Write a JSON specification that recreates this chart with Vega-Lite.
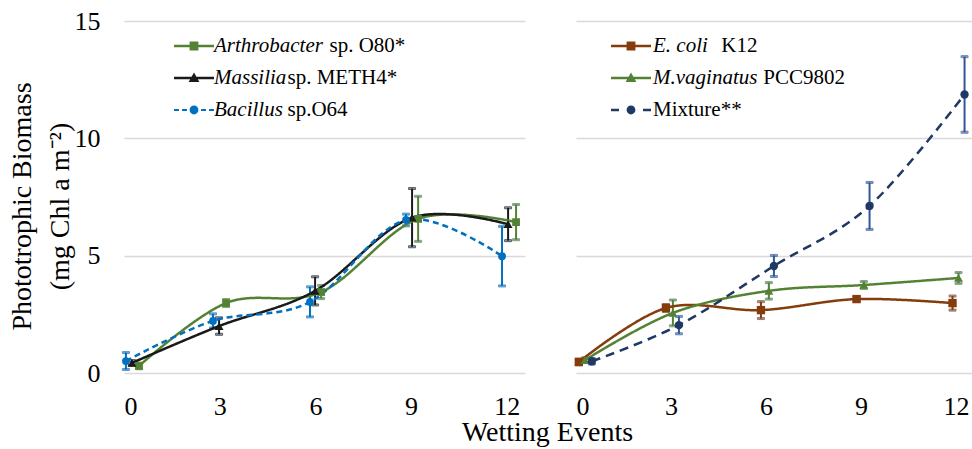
{
  "$schema": "https://vega.github.io/schema/vega-lite/v6.json",
  "padding": {"left": 8, "top": 8, "right": 0, "bottom": 0},
  "bounds": "flush",
  "spacing": 51,
  "config": {
    "font": "Liberation Serif",
    "view": {"stroke": null},
    "axis": {"labelFont": "Liberation Serif", "labelFontSize": 26, "labelColor": "#000", "titleFont": "Liberation Serif", "titleFontSize": 28, "titleFontWeight": "normal", "titleColor": "#000", "gridColor": "#d9d9d9", "gridWidth": 1.3, "domain": false, "ticks": false},
    "legend": {"labelFont": "Liberation Serif", "labelFontSize": 21, "labelColor": "#000", "labelLimit": 0, "symbolSize": 1600, "symbolStrokeWidth": 0, "rowPadding": 2}
  },
  "title": {"text": "Wetting Events", "orient": "bottom", "anchor": "middle", "font": "Liberation Serif", "fontSize": 28, "fontWeight": "normal", "color": "#000", "offset": 0, "dx": 56},
  "datasets": {
    "left": [
      {"series": "Arthrobacter sp. O80*", "x": 0.47, "y": 0.3, "err": 0.12},
      {"series": "Arthrobacter sp. O80*", "x": 3.2, "y": 2.98, "err": 0.15},
      {"series": "Arthrobacter sp. O80*", "x": 6.18, "y": 3.45, "err": 0.28},
      {"series": "Arthrobacter sp. O80*", "x": 9.22, "y": 6.57, "err": 0.96},
      {"series": "Arthrobacter sp. O80*", "x": 12.29, "y": 6.43, "err": 0.75},
      {"series": "Massilia sp. METH4*", "x": 0.25, "y": 0.43, "err": 0.1},
      {"series": "Massilia sp. METH4*", "x": 2.98, "y": 2.0, "err": 0.35},
      {"series": "Massilia sp. METH4*", "x": 5.99, "y": 3.5, "err": 0.6},
      {"series": "Massilia sp. METH4*", "x": 9.03, "y": 6.62, "err": 1.24},
      {"series": "Massilia sp. METH4*", "x": 12.04, "y": 6.34, "err": 0.7},
      {"series": "Bacillus sp.O64", "x": 0.06, "y": 0.51, "err": 0.36},
      {"series": "Bacillus sp.O64", "x": 2.79, "y": 2.22, "err": 0.3},
      {"series": "Bacillus sp.O64", "x": 5.83, "y": 3.03, "err": 0.64},
      {"series": "Bacillus sp.O64", "x": 8.84, "y": 6.52, "err": 0.25},
      {"series": "Bacillus sp.O64", "x": 11.85, "y": 4.98, "err": 1.27}
    ],
    "right": [
      {"series": "E. coli  K12", "x": 0.09, "y": 0.47, "err": 0.12},
      {"series": "E. coli  K12", "x": 2.84, "y": 2.77, "err": 0.15},
      {"series": "E. coli  K12", "x": 5.84, "y": 2.68, "err": 0.36},
      {"series": "E. coli  K12", "x": 8.86, "y": 3.15, "err": 0.1},
      {"series": "E. coli  K12", "x": 11.89, "y": 2.98, "err": 0.3},
      {"series": "M.vaginatus PCC9802", "x": 0.28, "y": 0.55, "err": 0.1},
      {"series": "M.vaginatus PCC9802", "x": 3.06, "y": 2.56, "err": 0.55},
      {"series": "M.vaginatus PCC9802", "x": 6.09, "y": 3.5, "err": 0.35},
      {"series": "M.vaginatus PCC9802", "x": 9.09, "y": 3.75, "err": 0.15},
      {"series": "M.vaginatus PCC9802", "x": 12.08, "y": 4.05, "err": 0.23},
      {"series": "Mixture**", "x": 0.5, "y": 0.5, "err": 0.12},
      {"series": "Mixture**", "x": 3.25, "y": 2.04, "err": 0.37},
      {"series": "Mixture**", "x": 6.25, "y": 4.56, "err": 0.45},
      {"series": "Mixture**", "x": 9.27, "y": 7.12, "err": 1.0},
      {"series": "Mixture**", "x": 12.27, "y": 11.87, "err": 1.61}
    ]
  },
  "resolve": {"scale": {"color": "independent", "fill": "independent", "stroke": "independent", "shape": "independent", "strokeDash": "independent"}, "legend": {"color": "independent", "fill": "independent", "shape": "independent"}},
  "hconcat": [
    {
      "width": 401, "height": 352,
      "data": {"name": "left"},
      "encoding": {
        "x": {"field": "x", "type": "quantitative", "scale": {"domain": [0, 12.57], "nice": false, "zero": false}, "axis": {"values": [0, 3, 6, 9, 12], "grid": false, "title": null, "labelPadding": 20}},
        "y": {"field": "y", "type": "quantitative", "scale": {"domain": [0, 15], "nice": false}, "axis": {"values": [0, 5, 10, 15], "grid": true, "title": ["Phototrophic Biomass", "(mg Chl a m⁻²)"], "titleLineHeight": 38, "titlePadding": 0, "titleY": 185, "labelPadding": 24}}
      },
      "layer": [
        {
          "mark": {"type": "point", "filled": true, "opacity": 0},
          "encoding": {
            "fill": {"field": "series", "type": "nominal", "scale": {"domain": ["Arthrobacter sp. O80*", "Massilia sp. METH4*", "Bacillus sp.O64"], "range": ["#548235", "#1a1a1a", "#0070c0"]}, "legend": {"title": null, "orient": "none", "legendX": 50, "legendY": 5, "labelOffset": 0, "symbolOpacity": 1, "labelExpr": "datum.label == 'Arthrobacter sp. O80*' ? '\u200b\u00a0\u00a0\u00a0\u00a0\u00a0\u00a0\u00a0\u00a0\u00a0\u00a0\u00a0\u00a0\u00a0\u00a0\u00a0\u00a0\u00a0\u00a0\u00a0\u00a0\u00a0\u00a0sp. O80*' : datum.label == 'Massilia sp. METH4*' ? '\u200b\u00a0\u00a0\u00a0\u00a0\u00a0\u00a0\u00a0\u00a0\u00a0\u00a0\u00a0\u00a0\u00a0\u00a0sp. METH4*' : '\u200b\u00a0\u00a0\u00a0\u00a0\u00a0\u00a0\u00a0\u00a0\u00a0\u00a0\u00a0\u00a0\u00a0\u00a0sp.O64'"}},
            "shape": {"field": "series", "type": "nominal", "scale": {"domain": ["Arthrobacter sp. O80*", "Massilia sp. METH4*", "Bacillus sp.O64"], "range": [
              "M-1,-0.06H1V0.06H-1Z M-0.22,-0.22H0.22V0.22H-0.22Z",
              "M-1,-0.06H1V0.06H-1Z M0,-0.27L0.27,0.2H-0.27Z",
              "M-1,-0.05H-0.75V0.05H-1Z M-0.6,-0.05H-0.35V0.05H-0.6Z M0.35,-0.05H0.6V0.05H0.35Z M0.75,-0.05H1V0.05H0.75Z M-0.22,0A0.22,0.22 0 1,1 0.22,0A0.22,0.22 0 1,1 -0.22,0Z"
            ]}, "legend": {"title": null, "orient": "none", "legendX": 50, "legendY": 5, "labelOffset": 0, "symbolOpacity": 1, "labelExpr": "datum.label == 'Arthrobacter sp. O80*' ? '\u200b\u00a0\u00a0\u00a0\u00a0\u00a0\u00a0\u00a0\u00a0\u00a0\u00a0\u00a0\u00a0\u00a0\u00a0\u00a0\u00a0\u00a0\u00a0\u00a0\u00a0\u00a0\u00a0sp. O80*' : datum.label == 'Massilia sp. METH4*' ? '\u200b\u00a0\u00a0\u00a0\u00a0\u00a0\u00a0\u00a0\u00a0\u00a0\u00a0\u00a0\u00a0\u00a0\u00a0sp. METH4*' : '\u200b\u00a0\u00a0\u00a0\u00a0\u00a0\u00a0\u00a0\u00a0\u00a0\u00a0\u00a0\u00a0\u00a0\u00a0sp.O64'"}}
          }
        },
        {
          "mark": {"type": "point", "filled": true, "opacity": 0},
          "encoding": {
            "color": {"field": "series", "type": "nominal", "sort": ["Arthrobacter sp. O80*", "Massilia sp. METH4*", "Bacillus sp.O64"], "legend": {"title": null, "orient": "none", "legendX": 50, "legendY": 5, "labelOffset": 0, "symbolOpacity": 0, "symbolType": "M-1,-0.06H1V0.06H-1Z", "labelFontStyle": "italic", "labelExpr": "datum.label == 'Arthrobacter sp. O80*' ? 'Arthrobacter' : datum.label == 'Massilia sp. METH4*' ? 'Massilia' : 'Bacillus'"}}
          }
        },
        {
          "mark": {"type": "errorbar", "thickness": 2, "ticks": {"size": 7, "thickness": 2}},
          "encoding": {
            "yError": {"field": "err"},
            "stroke": {"field": "series", "type": "nominal", "scale": {"domain": ["Arthrobacter sp. O80*", "Massilia sp. METH4*", "Bacillus sp.O64"], "range": ["#548235", "#1a1a1a", "#0070c0"]}, "legend": null}
          }
        },
        {
          "mark": {"type": "line", "interpolate": "cardinal", "tension": 0, "strokeWidth": 2.5},
          "encoding": {
            "stroke": {"field": "series", "type": "nominal", "scale": {"domain": ["Arthrobacter sp. O80*", "Massilia sp. METH4*", "Bacillus sp.O64"], "range": ["#548235", "#1a1a1a", "#0070c0"]}, "legend": null},
            "strokeDash": {"field": "series", "type": "nominal", "scale": {"domain": ["Arthrobacter sp. O80*", "Massilia sp. METH4*", "Bacillus sp.O64"], "range": [[1, 0], [1, 0], [6, 4]]}, "legend": null}
          }
        },
        {
          "transform": [{"filter": "datum.series === 'Arthrobacter sp. O80*'"}],
          "mark": {"type": "point", "shape": "square", "filled": true, "size": 60, "opacity": 1, "color": "#548235"},
          "encoding": {}
        },
        {
          "transform": [{"filter": "datum.series === 'Massilia sp. METH4*'"}],
          "mark": {"type": "point", "shape": "triangle-up", "filled": true, "size": 80, "opacity": 1, "color": "#1a1a1a"},
          "encoding": {}
        },
        {
          "transform": [{"filter": "datum.series === 'Bacillus sp.O64'"}],
          "mark": {"type": "point", "shape": "circle", "filled": true, "size": 60, "opacity": 1, "color": "#0070c0"},
          "encoding": {}
        }
      ]
    },
    {
      "width": 399, "height": 352,
      "data": {"name": "right"},
      "resolve": {"scale": {"stroke": "independent"}},
      "encoding": {
        "x": {"field": "x", "type": "quantitative", "scale": {"domain": [0, 12.6], "nice": false, "zero": false}, "axis": {"values": [0, 3, 6, 9, 12], "grid": false, "title": null, "labelPadding": 20}},
        "y": {"field": "y", "type": "quantitative", "scale": {"domain": [0, 15], "nice": false}, "axis": {"values": [0, 5, 10, 15], "grid": true, "title": null, "labels": false}}
      },
      "layer": [
        {
          "mark": {"type": "point", "filled": true, "opacity": 0},
          "encoding": {
            "fill": {"field": "series", "type": "nominal", "scale": {"domain": ["E. coli  K12", "M.vaginatus PCC9802", "Mixture**"], "range": ["#843c0c", "#548235", "#203864"]}, "legend": {"title": null, "orient": "none", "legendX": 35, "legendY": 5, "labelOffset": 2, "symbolOpacity": 1, "labelExpr": "datum.label == 'E. coli  K12' ? '\u200b\u00a0\u00a0\u00a0\u00a0\u00a0\u00a0\u00a0\u00a0\u00a0\u00a0\u00a0\u00a0\u00a0K12' : datum.label == 'M.vaginatus PCC9802' ? '\u200b\u00a0\u00a0\u00a0\u00a0\u00a0\u00a0\u00a0\u00a0\u00a0\u00a0\u00a0\u00a0\u00a0\u00a0\u00a0\u00a0\u00a0\u00a0\u00a0\u00a0\u00a0PCC9802' : 'Mixture**'"}},
            "shape": {"field": "series", "type": "nominal", "scale": {"domain": ["E. coli  K12", "M.vaginatus PCC9802", "Mixture**"], "range": [
              "M-1,-0.06H1V0.06H-1Z M-0.22,-0.22H0.22V0.22H-0.22Z",
              "M-1,-0.06H1V0.06H-1Z M0,-0.27L0.27,0.2H-0.27Z",
              "M-1,-0.06H-0.6V0.06H-1Z M0.6,-0.06H1V0.06H0.6Z M-0.22,0A0.22,0.22 0 1,1 0.22,0A0.22,0.22 0 1,1 -0.22,0Z"
            ]}, "legend": {"title": null, "orient": "none", "legendX": 35, "legendY": 5, "labelOffset": 2, "symbolOpacity": 1, "labelExpr": "datum.label == 'E. coli  K12' ? '\u200b\u00a0\u00a0\u00a0\u00a0\u00a0\u00a0\u00a0\u00a0\u00a0\u00a0\u00a0\u00a0\u00a0K12' : datum.label == 'M.vaginatus PCC9802' ? '\u200b\u00a0\u00a0\u00a0\u00a0\u00a0\u00a0\u00a0\u00a0\u00a0\u00a0\u00a0\u00a0\u00a0\u00a0\u00a0\u00a0\u00a0\u00a0\u00a0\u00a0\u00a0PCC9802' : 'Mixture**'"}}
          }
        },
        {
          "mark": {"type": "point", "filled": true, "opacity": 0},
          "encoding": {
            "color": {"field": "series", "type": "nominal", "sort": ["E. coli  K12", "M.vaginatus PCC9802", "Mixture**"], "legend": {"title": null, "orient": "none", "legendX": 35, "legendY": 5, "labelOffset": 2, "symbolOpacity": 0, "symbolType": "M-1,-0.06H1V0.06H-1Z", "labelFontStyle": "italic", "labelExpr": "datum.label == 'E. coli  K12' ? 'E. coli' : datum.label == 'M.vaginatus PCC9802' ? 'M.vaginatus' : ''"}}
          }
        },
        {
          "mark": {"type": "errorbar", "thickness": 2, "ticks": {"size": 7, "thickness": 2}},
          "encoding": {
            "yError": {"field": "err"},
            "stroke": {"field": "series", "type": "nominal", "scale": {"domain": ["E. coli  K12", "M.vaginatus PCC9802", "Mixture**"], "range": ["#843c0c", "#548235", "#2f5597"]}, "legend": null}
          }
        },
        {
          "mark": {"type": "line", "interpolate": "cardinal", "tension": 0, "strokeWidth": 2.5},
          "encoding": {
            "stroke": {"field": "series", "type": "nominal", "scale": {"domain": ["E. coli  K12", "M.vaginatus PCC9802", "Mixture**"], "range": ["#843c0c", "#548235", "#203864"]}, "legend": null},
            "strokeDash": {"field": "series", "type": "nominal", "scale": {"domain": ["E. coli  K12", "M.vaginatus PCC9802", "Mixture**"], "range": [[1, 0], [1, 0], [9, 6]]}, "legend": null}
          }
        },
        {
          "transform": [{"filter": "datum.series === 'E. coli  K12'"}],
          "mark": {"type": "point", "shape": "square", "filled": true, "size": 70, "opacity": 1, "color": "#843c0c"},
          "encoding": {}
        },
        {
          "transform": [{"filter": "datum.series === 'M.vaginatus PCC9802'"}],
          "mark": {"type": "point", "shape": "triangle-up", "filled": true, "size": 80, "opacity": 1, "color": "#548235"},
          "encoding": {}
        },
        {
          "transform": [{"filter": "datum.series === 'Mixture**'"}],
          "mark": {"type": "point", "shape": "circle", "filled": true, "size": 70, "opacity": 1, "color": "#203864"},
          "encoding": {}
        }
      ]
    }
  ]
}
